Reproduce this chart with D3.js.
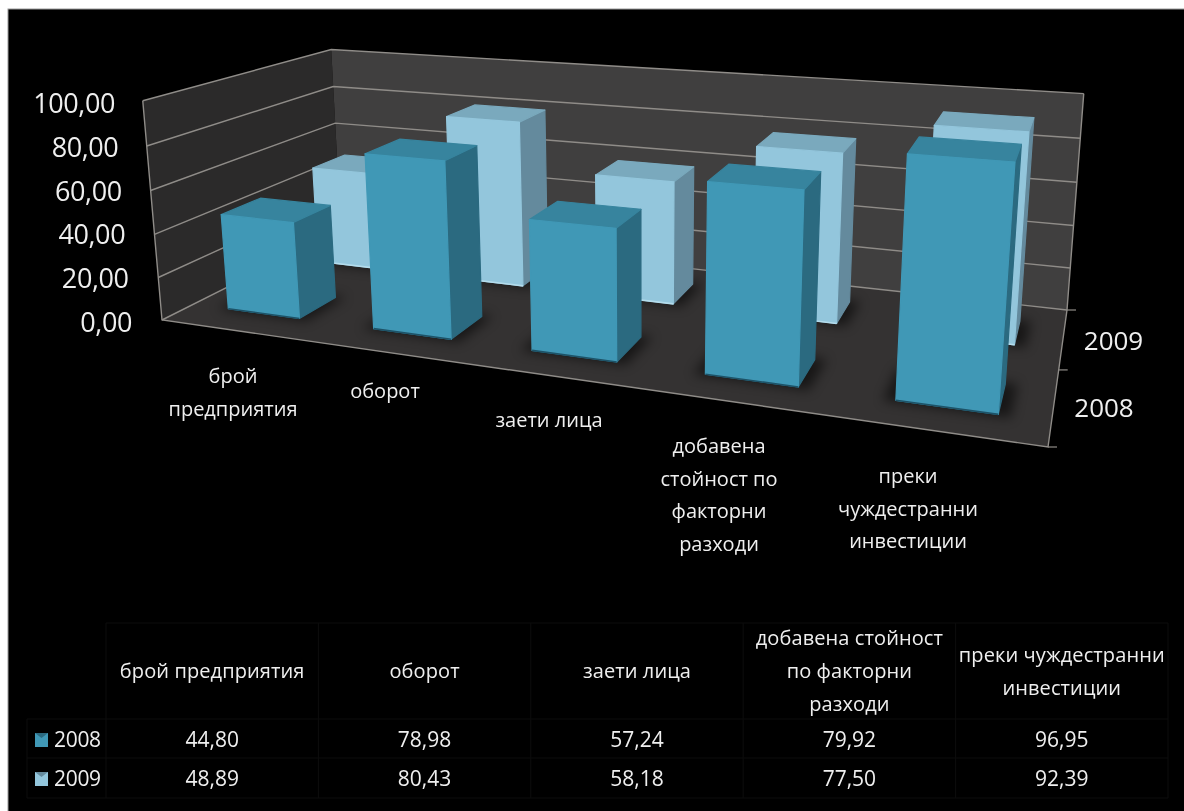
<!DOCTYPE html>
<html lang="bg"><head><meta charset="utf-8">
<script src="https://cdnjs.cloudflare.com/ajax/libs/d3/7.8.5/d3.min.js"></script>
<style>html,body{margin:0;padding:0;background:#fff;overflow:hidden}svg{display:block}text{font-family:"Open Sans","Noto Sans",sans-serif;fill:#efefef}</style>
</head><body><div id="c"></div>
<script>
// ---- data ----
const categories = ["брой предприятия","оборот","заети лица","добавена стойност по факторни разходи","преки чуждестранни инвестиции"];
const seriesNames = ["2008","2009"];
const values2008 = [44.80,78.98,57.24,79.92,96.95];
const values2009 = [48.89,80.43,58.18,77.50,92.39];
const valueTicks = [0,20,40,60,80,100];
const axisLabelLines = [["брой","предприятия"],["оборот"],["заети лица"],["добавена","стойност по","факторни","разходи"],["преки","чуждестранни","инвестиции"]];
const headerLines = [["брой предприятия"],["оборот"],["заети лица"],["добавена стойност","по факторни","разходи"],["преки чуждестранни","инвестиции"]];

// ---- projection: unit cube (u along categories, w in depth, v up) to the picture ----
const W=1184,H=811;
function floorMatrix(p0,p1,p2,p3){
  const dx1=p1[0]-p2[0],dx2=p3[0]-p2[0],dx3=p0[0]-p1[0]+p2[0]-p3[0];
  const dy1=p1[1]-p2[1],dy2=p3[1]-p2[1],dy3=p0[1]-p1[1]+p2[1]-p3[1];
  const den=dx1*dy2-dx2*dy1;
  const g=(dx3*dy2-dx2*dy3)/den,h=(dx1*dy3-dx3*dy1)/den;
  return {a:p1[0]-p0[0]+g*p1[0],b:p3[0]-p0[0]+h*p3[0],c:p0[0],d:p1[1]-p0[1]+g*p1[1],e:p3[1]-p0[1]+h*p3[1],f:p0[1],g,h};
}
const M=floorMatrix([162,320],[1048,447],[1067,310],[341,230]);
// height column of the camera matrix, least-squares fit to the visible top corners of the box
const topCorners=[[0,0,144,100],[1,1,1084,95],[0,1,330,49]];
function fitHeight(){
  const rows=[],rhs=[];
  topCorners.forEach(([u,w,x,y])=>{
    const T=M.g*u+M.h*w+1;
    rows.push([1,0,-x]);rhs.push(x*T-(M.a*u+M.b*w+M.c));
    rows.push([0,1,-y]);rhs.push(y*T-(M.d*u+M.e*w+M.f));
  });
  const A=d3.range(3).map(i=>d3.range(3).map(j=>d3.sum(rows,r=>r[i]*r[j])));
  const B=d3.range(3).map(i=>d3.sum(rows,(r,k)=>r[i]*rhs[k]));
  for(let i=0;i<3;i++){
    for(let k=i+1;k<3;k++){
      const m=A[k][i]/A[i][i];
      for(let j=i;j<3;j++)A[k][j]-=m*A[i][j];
      B[k]-=m*B[i];
    }
  }
  const s=[0,0,0];
  for(let i=2;i>=0;i--){
    s[i]=(B[i]-d3.sum(d3.range(i+1,3),j=>A[i][j]*s[j]))/A[i][i];
  }
  return s;
}
const [mp,mq,mr]=fitHeight();
const project=(u,w,v)=>{
  const t=M.g*u+M.h*w+1+mr*v;
  return [(M.a*u+M.b*w+M.c+mp*v)/t,(M.d*u+M.e*w+M.f+mq*v)/t];
};

const valueScale=d3.scaleLinear().domain([0,100]).range([0,1]);
const catScale=d3.scaleBand().domain(categories).range([0,1]).paddingInner(0.5).paddingOuter(0.25);
const depthScale=d3.scaleBand().domain(seriesNames).range([0,1]).paddingInner(0.6).paddingOuter(0.3);
const labelX=d3.scaleLinear().domain([0,100]).range([132,115]);
const labelY=d3.scaleLinear().domain([0,100]).range([332,113]);
const fmt=d3.formatLocale({decimal:",",thousands:" ",grouping:[3],currency:["",""]}).format(".2f");

const svg=d3.select("#c").append("svg").attr("width",W).attr("height",H).style("filter","blur(0.45px)");
const line=d3.line();
const poly=pts=>line(pts)+"Z";
const defs=svg.append("defs");
defs.append("filter").attr("id","sh").attr("x","-40%").attr("y","-60%").attr("width","180%").attr("height","220%")
  .append("feGaussianBlur").attr("stdDeviation",6);

// page
svg.append("rect").attr("width",W).attr("height",H).attr("fill","#fff");
svg.append("rect").attr("x",8).attr("y",9).attr("width",W).attr("height",H).attr("fill","#000").attr("stroke","#9a9a9a").attr("stroke-width",1);

// walls and floor
svg.append("path").attr("d",poly([project(0,0,0),project(0,1,0),project(0,1,1),project(0,0,1)])).attr("fill","#2b2a2a");
svg.append("path").attr("d",poly([project(0,1,0),project(1,1,0),project(1,1,1),project(0,1,1)])).attr("fill","#403f3f");
svg.append("path").attr("d",poly([project(0,0,0),project(1,0,0),project(1,1,0),project(0,1,0)])).attr("fill","#343232");

// gridlines and frame
const gridColor="#8f8c88";
valueTicks.forEach(t=>{
  const v=valueScale(t);
  svg.append("path").attr("d",line([project(0,0,v),project(0,1,v),project(1,1,v)]))
    .attr("fill","none").attr("stroke",gridColor).attr("stroke-width",1.4);
});
svg.append("path").attr("d",line([project(0,0,1),project(0,0,0),project(1,0,0),project(1,1,0),project(1,1,1)]))
  .attr("fill","none").attr("stroke",gridColor).attr("stroke-width",1.4);
// depth ticks
[0,0.5,1].forEach(w=>{
  const p=project(1,w,0);
  svg.append("path").attr("d",line([p,[p[0]+9,p[1]]])).attr("stroke",gridColor).attr("stroke-width",1.2).attr("fill","none");
});

// bars, back row first
const seriesStyle={
  "2009":{values:values2009,front:"#93c6dc",top:"#7aa9bd",side:"#648a9d",edge:"#b4dcec"},
  "2008":{values:values2008,front:"#4098b6",top:"#37849e",side:"#2b6a80",edge:"#1d5368"}
};
["2009","2008"].forEach(s=>{
  const st=seriesStyle[s];
  const g=svg.append("g").attr("class","series-"+s);
  const w0=depthScale(s),w1=w0+depthScale.bandwidth();
  categories.forEach((c,i)=>{
    const u0=catScale(c),u1=u0+catScale.bandwidth(),v=valueScale(st.values[i]);
    const e=0.012;
    g.append("path").attr("d",poly([project(u0-e,w0-e,0),project(u1+e,w0-e,0),project(u1+e,w1+e,0),project(u0-e,w1+e,0)]))
      .attr("fill","#000").attr("opacity",0.55).attr("filter","url(#sh)");
    const faces=[
      {pts:[project(u1,w0,0),project(u1,w1,0),project(u1,w1,v),project(u1,w0,v)],f:st.side},
      {pts:[project(u0,w0,v),project(u1,w0,v),project(u1,w1,v),project(u0,w1,v)],f:st.top},
      {pts:[project(u0,w0,0),project(u1,w0,0),project(u1,w0,v),project(u0,w0,v)],f:st.front}
    ];
    faces.forEach(fc=>g.append("path").attr("d",poly(fc.pts)).attr("fill",fc.f).attr("stroke",fc.f).attr("stroke-width",1.2).attr("stroke-linejoin","round"));
    g.append("path").attr("d",line([project(u0,w0,0),project(u1,w0,0)])).attr("fill","none").attr("stroke",st.edge).attr("stroke-width",1.6);
  });
});

// value axis labels
valueTicks.forEach(t=>{
  svg.append("text").attr("x",labelX(t)).attr("y",labelY(t)).attr("text-anchor","end")
    .attr("font-size",27).attr("letter-spacing",-0.4).text(fmt(t));
});
// category labels
const labelAnchors=[[233,383],[385,398],[549,427],[719,453],[908,483]];
categories.forEach((c,i)=>{
  const t=svg.append("text").attr("text-anchor","middle").attr("font-size",20);
  axisLabelLines[i].forEach((l,j)=>t.append("tspan").attr("x",labelAnchors[i][0]).attr("y",labelAnchors[i][1]+j*32.5).text(l));
});
// depth labels
[["2009",1113.5,350],["2008",1104,417]].forEach(d=>svg.append("text").attr("x",d[1]).attr("y",d[2]).attr("text-anchor","middle").attr("font-size",26).text(d[0]));

// data table
const colX=d3.scalePoint().domain(d3.range(6)).range([106,1168]);
const rowY=[623,719,758,798];
const tg=svg.append("g");
const tableGrid="#0d0d0d";
rowY.forEach((y,i)=>tg.append("line").attr("x1",i?27:106).attr("x2",1168).attr("y1",y).attr("y2",y).attr("stroke",tableGrid));
d3.range(6).forEach(i=>tg.append("line").attr("x1",colX(i)).attr("x2",colX(i)).attr("y1",623).attr("y2",798).attr("stroke",tableGrid));
tg.append("line").attr("x1",27).attr("x2",27).attr("y1",719).attr("y2",798).attr("stroke",tableGrid);
categories.forEach((c,i)=>{
  const cx=(colX(i)+colX(i+1))/2,n=headerLines[i].length,y0=678-(n-1)*16.5;
  headerLines[i].forEach((l,j)=>tg.append("text").attr("x",cx).attr("y",y0+j*33).attr("text-anchor","middle").attr("font-size",20).attr("letter-spacing",0.1).text(l));
  [values2008,values2009].forEach((vals,r)=>tg.append("text").attr("x",cx).attr("y",747+r*39).attr("text-anchor","middle").attr("font-size",21).text(fmt(vals[i])));
});
seriesNames.forEach((s,r)=>{
  const st=seriesStyle[s],y=733+r*39;
  tg.append("rect").attr("x",35).attr("y",y).attr("width",13).attr("height",14).attr("fill",st.front);
  tg.append("path").attr("d",poly([[35,y],[48,y],[41.5,y+5]])).attr("fill",st.side);
  tg.append("text").attr("x",54).attr("y",747+r*39).attr("font-size",21).attr("letter-spacing",-0.3).text(s);
});
</script></body></html>
